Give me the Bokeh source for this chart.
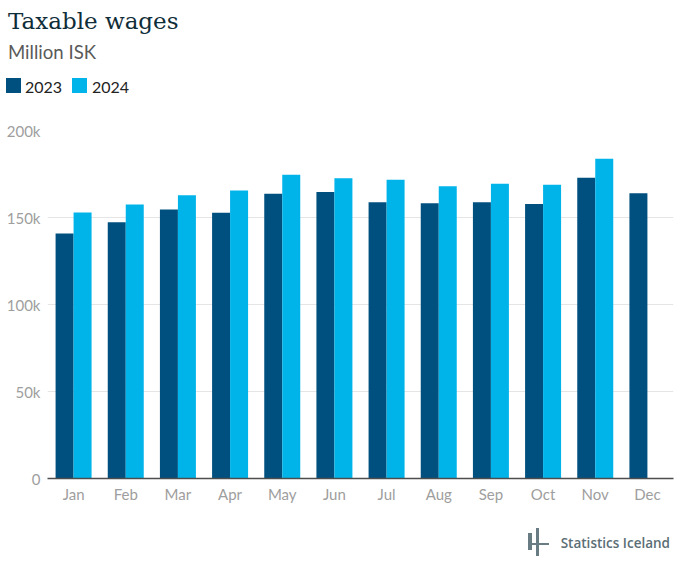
from bokeh.plotting import figure
from bokeh.layouts import column
from bokeh.models import FactorRange, Range1d, FixedTicker, ColumnDataSource, Div
from bokeh.transform import dodge
from bokeh.embed import file_html
from bokeh.resources import INLINE

# data (million ISK)
months = ["Jan", "Feb", "Mar", "Apr", "May", "Jun", "Jul", "Aug", "Sep", "Oct", "Nov", "Dec"]
wages_2023 = [140800, 147300, 154600, 152700, 163600, 164600, 158800, 158200, 158800, 157700, 172800, 164000]
wages_2024 = [152900, 157500, 162800, 165500, 174500, 172600, 171700, 168000, 169400, 168800, 183700, float("nan")]
series = ["2023", "2024"]
y_ticks = [0, 50000, 100000, 150000, 200000]
y_tick_labels = ["0", "50k", "100k", "150k", "200k"]

DARK = "#00507f"
LIGHT = "#00b4ea"
LOGO = "#6a7c83"

# header: title, subtitle and legend
def box(left, top, css, inner=""):
    return ('<div style="position:absolute;left:%spx;top:%spx;white-space:nowrap;%s">%s</div>'
            % (left, top, css, inner))

lab = "font-family:Lato;font-size:16px;line-height:16px;color:#222222;"
head_html = ('<div style="position:relative;width:680px;height:112px;">'
             + box(8, 9.8, "font-family:'DejaVu Serif';font-size:23px;line-height:23px;color:#0f2d38;",
                   "Taxable wages")
             + box(8, 42.6, "font-family:Lato;font-size:18.6px;line-height:19px;color:#5a5a5a;", "Million ISK")
             + box(6, 78, "width:15px;height:15px;background:%s;" % DARK)
             + box(25, 78.5, lab, series[0])
             + box(72, 78, "width:15px;height:15px;background:%s;" % LIGHT)
             + box(92, 78.5, lab, series[1])
             + '</div>')
head = Div(text=head_html, width=680, height=112, margin=0)

# chart
src = ColumnDataSource(dict(month=months, y23=wages_2023, y24=wages_2024))
p = figure(width=680, height=398, x_range=FactorRange(*months), y_range=Range1d(0, 200000),
           output_backend="svg", toolbar_location=None, title=None,
           min_border_left=47, min_border_right=7, min_border_top=18, min_border_bottom=32)
p.vbar(x=dodge("month", -0.1725, range=p.x_range), top="y23", width=0.345,
       source=src, color=DARK, line_color=None)
p.vbar(x=dodge("month", 0.1725, range=p.x_range), top="y24", width=0.345,
       source=src, color=LIGHT, line_color=None)

p.outline_line_color = None
p.xgrid.grid_line_color = None
p.ygrid.grid_line_color = "#e5e5e5"
p.ygrid.ticker = FixedTicker(ticks=y_ticks)
p.yaxis.ticker = FixedTicker(ticks=y_ticks)
p.yaxis.major_label_overrides = dict(zip(y_ticks, y_tick_labels))
p.yaxis.axis_line_color = None
p.axis.major_tick_out = 0
p.axis.major_tick_in = 0
p.axis.minor_tick_out = 0
p.axis.minor_tick_in = 0
p.axis.major_label_text_font = "Lato"
p.axis.major_label_text_font_size = "15px"
p.axis.major_label_text_color = "#9e9e9e"
p.yaxis.major_label_standoff = 7
p.xaxis.major_label_standoff = 6
p.xaxis.axis_line_color = "#4d4d4d"
p.xaxis.axis_line_width = 1.5

# footer: Statistics Iceland logo
foot_html = ('<div style="position:relative;width:680px;height:62px;">'
             + box(528.3, 23, "width:4px;height:17px;background:%s;" % LOGO)
             + box(535.7, 17.7, "width:3.6px;height:28.6px;background:%s;" % LOGO)
             + box(528, 33.3, "width:21px;height:1.5px;background:%s;" % LOGO)
             + box(560.7, 26.3, "font-family:'Open Sans';font-size:13.5px;line-height:14px;"
                   "font-weight:600;color:#5b6e75;", "Statistics Iceland")
             + '</div>')
foot = Div(text=foot_html, width=680, height=62, margin=0)

layout = column(head, p, foot, spacing=0)
open("out.html", "w").write(file_html(layout, INLINE))
